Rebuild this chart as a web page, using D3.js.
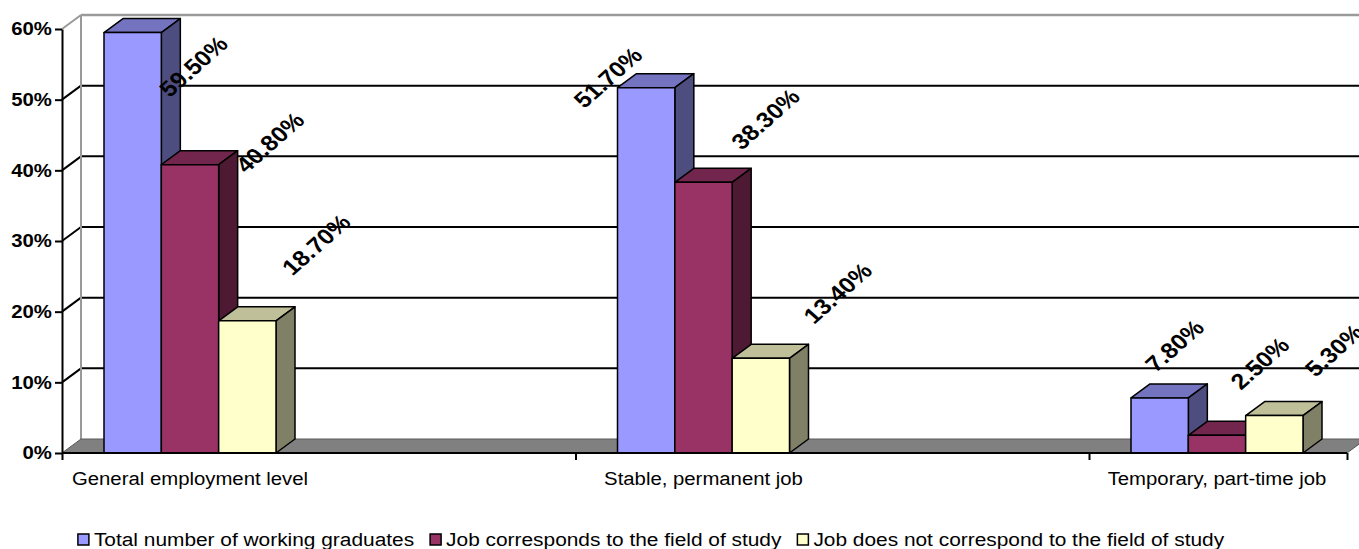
<!DOCTYPE html>
<html>
<head>
<meta charset="utf-8">
<script src="https://cdn.jsdelivr.net/npm/d3@7/dist/d3.min.js"></script>
<style>
  body { margin: 0; background: #fff; }
  svg { display: block; }
  text { font-family: "Liberation Sans", Arial, sans-serif; }
</style>
</head>
<body>
<div id="wrapper"></div>
<script>
const categories = ["General employment level", "Stable, permanent job", "Temporary, part-time job"]
const seriesNames = [
    "Total number of working graduates",
    "Job corresponds to the field of study",
    "Job does not correspond to the field of study"
]
const totalWorking = [59.5, 51.7, 7.8]
const fieldMatch = [40.8, 38.3, 2.5]
const fieldMismatch = [18.7, 13.4, 5.3]
const yTicks = [0, 10, 20, 30, 40, 50, 60]

// where excel dropped each value label, px from the top of its bar
const labelNudge = [
    [[61, 34], [-38, -10], [15, -52]],
    [[80, -22], [62, -63], [43, -72]],
    [[69, -76], [77, -65], [60, -65]],
]

const faceColors = [
    { front: "#9999ff", top: "#7373bf", side: "#4d4d80" },
    { front: "#993366", top: "#73264d", side: "#4d1933" },
    { front: "#ffffcc", top: "#bfbf99", side: "#808066" },
]

function drawBarChart() {
    const series = [totalWorking, fieldMatch, fieldMismatch]
    const sx = 1.13 // the original picture is stretched sideways

    let dimensions = {
        width: 1359,
        height: 549,
        left: 62,
        right: 1347,
        top: 29,
        bottom: 453,
        bandStep: 513.5,
        depthX: 19,
        depthY: -14,
    }

    const wrapper = d3.select("#wrapper")
        .append("svg")
            .attr("width", dimensions.width)
            .attr("height", dimensions.height)

    const yScale = d3.scaleLinear()
        .domain([0, 60])
        .range([dimensions.bottom, dimensions.top])

    const xScale = d3.scaleBand()
        .domain(d3.range(categories.length))
        .range([dimensions.left, dimensions.left + dimensions.bandStep * categories.length])

    const seriesScale = d3.scaleBand()
        .domain(d3.range(series.length))
        .range([42, 214])

    const dx = dimensions.depthX
    const dy = dimensions.depthY
    const backRight = dimensions.right + dx

    // back wall grid
    const walls = wrapper.append("g")
    walls.selectAll(".grid")
        .data(yTicks.filter(t => t > 0 && t < 60))
        .join("line")
            .attr("x1", dimensions.left + dx)
            .attr("x2", backRight)
            .attr("y1", d => yScale(d) + dy)
            .attr("y2", d => yScale(d) + dy)
            .attr("stroke", "#000")
            .attr("stroke-width", 2)
    walls.selectAll(".side")
        .data(yTicks.filter(t => t > 0))
        .join("line")
            .attr("x1", dimensions.left)
            .attr("y1", d => yScale(d))
            .attr("x2", dimensions.left + dx)
            .attr("y2", d => yScale(d) + dy)
            .attr("stroke", d => d == 60 ? "#999" : "#000")
            .attr("stroke-width", 2)
    walls.append("line")
        .attr("x1", dimensions.left + dx)
        .attr("x2", backRight)
        .attr("y1", yScale(60) + dy)
        .attr("y2", yScale(60) + dy)
        .attr("stroke", "#9a9a9a")
        .attr("stroke-width", 2.5)
    walls.append("line")
        .attr("x1", dimensions.left + dx)
        .attr("x2", dimensions.left + dx)
        .attr("y1", yScale(60) + dy)
        .attr("y2", yScale(0) + dy)
        .attr("stroke", "#999")
        .attr("stroke-width", 2)

    // floor
    const y0 = yScale(0)
    walls.append("polygon")
        .attr("points", [
            [dimensions.left, y0],
            [dimensions.left + dx, y0 + dy],
            [backRight, y0 + dy],
            [dimensions.right, y0]
        ].join(" "))
        .attr("fill", "#808080")
        .attr("stroke", "#5a5a5a")
        .attr("stroke-width", 1)

    // bars, left to right so each one hides the side of the one before
    const bars = wrapper.append("g")
    categories.forEach((cat, c) => {
        series.forEach((values, s) => {
            const x = xScale(c) + seriesScale(s)
            const w = seriesScale.bandwidth()
            const yTop = yScale(values[c])
            const col = faceColors[s]
            const g = bars.append("g")
                .attr("stroke", "#000")
                .attr("stroke-width", 1.5)
                .attr("stroke-linejoin", "round")
            g.append("polygon")
                .attr("points", [[x, yTop], [x + dx, yTop + dy], [x + w + dx, yTop + dy], [x + w, yTop]].join(" "))
                .attr("fill", col.top)
            g.append("polygon")
                .attr("points", [[x + w, yTop], [x + w + dx, yTop + dy], [x + w + dx, y0 + dy], [x + w, y0]].join(" "))
                .attr("fill", col.side)
            g.append("rect")
                .attr("x", x)
                .attr("y", yTop)
                .attr("width", w)
                .attr("height", y0 - yTop)
                .attr("fill", col.front)
        })
    })

    // axes
    const yAxisGenerator = d3.axisLeft(yScale)
        .tickValues(yTicks)
        .tickSize(7)
        .tickSizeOuter(0)
        .tickPadding(2)
        .tickFormat(d => d + "%")
    const yAxis = wrapper.append("g")
        .attr("transform", `translate(${dimensions.left},0)`)
        .call(yAxisGenerator)
    yAxis.select(".domain").attr("stroke-width", 2)
    yAxis.selectAll(".tick line").attr("stroke-width", 2)
    yAxis.selectAll("text")
        .attr("font-size", 18)
        .attr("font-weight", "bold")
        .attr("fill", "#000")
        .attr("font-family", "'Liberation Sans', Arial, sans-serif")
        .attr("transform", `scale(${sx},1)`)

    const edgeScale = d3.scaleIdentity()
    const xTicks = d3.range(categories.length).map(i => xScale(i)).concat([dimensions.right])
    const xAxisGenerator = d3.axisBottom(edgeScale)
        .tickValues(xTicks)
        .tickSize(7)
        .tickSizeOuter(0)
        .tickFormat("")
    const xAxis = wrapper.append("g")
        .attr("transform", `translate(0,${y0})`)
        .call(xAxisGenerator)
    xAxis.select(".domain")
        .attr("d", `M${dimensions.left},0H${dimensions.right}`)
        .attr("stroke-width", 2)
    xAxis.selectAll(".tick line").attr("stroke-width", 2)

    // category names
    wrapper.append("g")
        .selectAll("text")
        .data(categories)
        .join("text")
            .attr("transform", (d, i) => `translate(${xScale(i) + 128},485) scale(${sx},1)`)
            .attr("text-anchor", "middle")
            .attr("font-size", 18)
            .text(d => d)

    // value labels
    const fmt = d3.format(".2f")
    const labels = wrapper.append("g")
    series.forEach((values, s) => {
        values.forEach((v, c) => {
            const cx = xScale(c) + seriesScale(s) + seriesScale.bandwidth() / 2 + labelNudge[s][c][0]
            const cy = yScale(v) + labelNudge[s][c][1]
            labels.append("text")
                .attr("transform", `translate(${cx},${cy}) scale(${sx},1) rotate(-45)`)
                .attr("text-anchor", "middle")
                .attr("dominant-baseline", "central")
                .attr("font-size", 22)
                .attr("font-weight", "bold")
                .text(fmt(v) + "%")
        })
    })

    // legend
    const legendSx = 1.16
    const legend = wrapper.append("g")
    let cursor = 0
    seriesNames.forEach((name, s) => {
        const item = legend.append("g")
        item.append("rect")
            .attr("x", 0)
            .attr("y", -12)
            .attr("width", 11)
            .attr("height", 11)
            .attr("fill", faceColors[s].front)
            .attr("stroke", "#000")
            .attr("stroke-width", 1.5)
        const t = item.append("text")
            .attr("transform", `translate(16,0) scale(${legendSx},1)`)
            .attr("font-size", 18)
            .text(name)
        const tw = t.node().getComputedTextLength() * legendSx
        item.attr("transform", `translate(${cursor},0)`)
        cursor += 16 + tw + 16
    })
    const legendWidth = cursor - 16
    legend.attr("transform", `translate(${651 - legendWidth / 2},546)`)
}

drawBarChart();
</script>
</body>
</html>
